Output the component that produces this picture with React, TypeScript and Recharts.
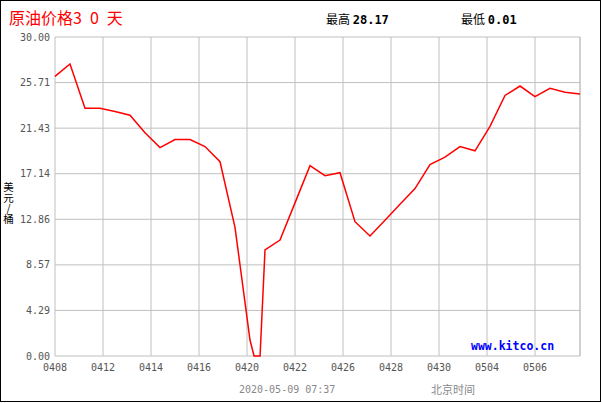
import React from "react";
import {
  LineChart,
  Line,
  XAxis,
  YAxis,
  CartesianGrid,
  ReferenceLine,
} from "recharts";

// x position in trading-slot units, price in USD/bbl (clamped at 0 on the chart)
const slots = [
  0, 1, 2, 3, 4, 5, 6, 7, 8, 9, 10, 11, 12, 13, 13.27, 13.67, 14, 15, 16, 17,
  18, 19, 20, 21, 22, 23, 24, 25, 26, 27, 28, 29, 30, 31, 32, 33, 34, 35,
];
const prices = [
  26.3, 27.46, 23.3, 23.3, 23.0, 22.65, 21.0, 19.6, 20.35, 20.35, 19.7, 18.27,
  12.1, 1.5, 0, 0, 9.97, 10.9, 14.4, 17.9, 16.96, 17.24, 12.63, 11.29, 12.77,
  14.27, 15.75, 18.0, 18.7, 19.7, 19.3, 21.6, 24.5, 25.39, 24.39, 25.17, 24.8,
  24.64,
];

const xTicks = [0, 3.2, 6.4, 9.6, 12.8, 16, 19.2, 22.4, 25.6, 28.8, 32];
const xLabels = [
  "0408", "0412", "0414", "0416", "0420", "0422",
  "0426", "0428", "0430", "0504", "0506",
];
const yTicks = [0, 4.2857, 8.5714, 12.8571, 17.1429, 21.4286, 25.7143, 30];

const data = slots.map((x, i) => ({ x, price: prices[i] }));

const mono = "'DejaVu Sans Mono', 'Liberation Mono', monospace";
const cjk = "'Noto Sans CJK SC', 'Noto Sans', sans-serif";
const gridColor = "#c0c0c0";

export default function App() {
  return (
    <div style={{ position: "relative", width: 602, height: 403, background: "#fff" }}>
      <style>{"body{margin:0}"}</style>
      {/* outer frame */}
      <div
        style={{
          position: "absolute",
          left: 0,
          top: 0,
          width: 599,
          height: 400,
          border: "1px solid #000",
        }}
      />

      <LineChart
        width={602}
        height={403}
        data={data}
        margin={{ top: 37, right: 22, left: 0, bottom: 27 }}
      >
        <CartesianGrid stroke={gridColor} strokeWidth={1} />
        <XAxis
          dataKey="x"
          type="number"
          domain={[0, 35]}
          ticks={xTicks}
          tickFormatter={(v: number) => xLabels[xTicks.indexOf(v)] ?? ""}
          axisLine={false}
          tickLine={false}
          tickSize={6}
          tickMargin={2}
          height={20}
          interval={0}
          tick={{ fontSize: 10, fill: "#555", fontFamily: mono }}
        />
        <YAxis
          type="number"
          domain={[0, 30]}
          ticks={yTicks}
          tickFormatter={(v: number) => v.toFixed(2)}
          axisLine={false}
          tickLine={false}
          tickSize={3}
          tickMargin={2}
          width={55}
          interval={0}
          tick={{ fontSize: 10, fill: "#555", fontFamily: mono }}
        />
        <ReferenceLine x={35} stroke={gridColor} />
        <Line
          type="linear"
          dataKey="price"
          stroke="#ff0000"
          strokeWidth={1.5}
          dot={false}
          isAnimationActive={false}
        />
      </LineChart>

      {/* title */}
      <div
        style={{
          position: "absolute",
          left: 9,
          top: 8,
          fontFamily: cjk,
          fontSize: 16,
          lineHeight: "18px",
          color: "#ff0000",
          whiteSpace: "pre",
        }}
      >
        {"原油价格3\u20000\u2000天"}
      </div>
      <div
        style={{
          position: "absolute",
          left: 326,
          top: 11,
          fontSize: 12,
          lineHeight: "16px",
          color: "#000",
          whiteSpace: "pre",
        }}
      >
        <span style={{ fontFamily: cjk }}>最高 </span>
        <span style={{ fontFamily: mono, fontWeight: "bold" }}>28.17</span>
      </div>
      <div
        style={{
          position: "absolute",
          left: 461,
          top: 11,
          fontSize: 12,
          lineHeight: "16px",
          color: "#000",
          whiteSpace: "pre",
        }}
      >
        <span style={{ fontFamily: cjk }}>最低 </span>
        <span style={{ fontFamily: mono, fontWeight: "bold" }}>0.01</span>
      </div>

      {/* y axis unit, stacked vertically */}
      <div
        style={{
          position: "absolute",
          left: 1,
          top: 182,
          width: 14,
          fontFamily: cjk,
          fontSize: 10.5,
          lineHeight: "14px",
          color: "#000",
          writingMode: "vertical-rl",
          textOrientation: "upright",
        }}
      >
        美元/桶
      </div>

      {/* watermark */}
      <div
        style={{
          position: "absolute",
          left: 471,
          top: 339,
          fontFamily: mono,
          fontWeight: "bold",
          fontSize: 11.5,
          lineHeight: "15px",
          color: "#0000ff",
        }}
      >
        www.kitco.cn
      </div>

      {/* footer */}
      <div
        style={{
          position: "absolute",
          left: 239,
          top: 383,
          fontFamily: mono,
          fontSize: 10,
          lineHeight: "14px",
          color: "#888",
          whiteSpace: "pre",
        }}
      >
        2020-05-09 07:37
      </div>
      <div
        style={{
          position: "absolute",
          left: 431,
          top: 382,
          fontFamily: cjk,
          fontSize: 11,
          lineHeight: "15px",
          color: "#888",
        }}
      >
        北京时间
      </div>
    </div>
  );
}
